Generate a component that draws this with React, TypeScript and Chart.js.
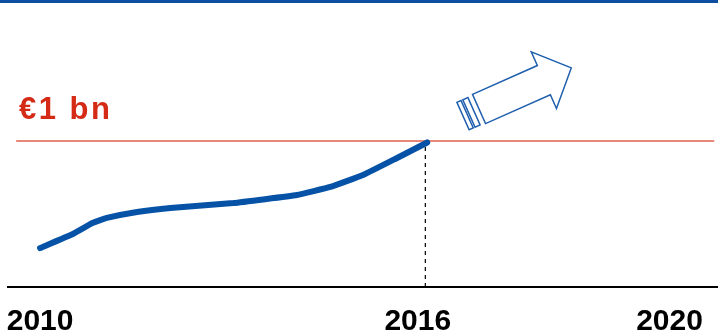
import React, { useEffect, useRef } from "react";
import { Chart, registerables } from "chart.js";

Chart.register(...registerables);

// ---- data ----
const YEARS = [2010, 2010.52, 2010.83, 2011.06, 2011.54, 2012.07, 2013.07, 2014.08, 2014.61, 2015.13, 2015.64, 2016.15];
const VALUES_BN = [0.267, 0.363, 0.438, 0.473, 0.514, 0.541, 0.575, 0.63, 0.685, 0.767, 0.877, 0.99];
const TICK_YEARS = [2010, 2016, 2020];
const THRESHOLD_BN = 1;
const THRESHOLD_LABEL = "€1 bn";
const THRESHOLD_SPAN = [2009.62, 2020.71];
const MILESTONE_YEAR = 2016.12;
const X_RANGE = [2009.49, 2020.77];
const Y_RANGE = [0, 1.8];

const BLUE = "#0652a6";
const RED_LINE = "#e0614f";
const RED_TEXT = "#d42a16";
const ARROW_BLUE = "#1f5fae";
const FONT = "'Liberation Sans', Arial, sans-serif";

const annotationPlugin = {
  id: "annotations",
  afterDatasetsDraw(chart: any) {
    const { ctx } = chart;
    const yScale = chart.scales.y;
    const yLine = yScale.getPixelForValue(THRESHOLD_BN);
    ctx.save();
    ctx.fillStyle = RED_TEXT;
    ctx.font = `bold 31px ${FONT}`;
    ctx.textBaseline = "alphabetic";
    ctx.textAlign = "left";
    try {
      (ctx as any).letterSpacing = "2.5px";
    } catch (e) {}
    ctx.fillText(THRESHOLD_LABEL, 19, yLine - 22);
    try {
      (ctx as any).letterSpacing = "0px";
    } catch (e) {}

    // outlined arrow
    ctx.translate(479, 109);
    ctx.rotate((-24 * Math.PI) / 180);
    ctx.strokeStyle = ARROW_BLUE;
    ctx.lineWidth = 1.5;
    ctx.lineJoin = "miter";
    ctx.beginPath();
    ctx.moveTo(0, -16);
    ctx.lineTo(71, -16);
    ctx.lineTo(71, -31);
    ctx.lineTo(101, 0);
    ctx.lineTo(71, 31);
    ctx.lineTo(71, 16);
    ctx.lineTo(0, 16);
    ctx.closePath();
    ctx.stroke();
    ctx.strokeRect(-11, -15, 5.5, 30);
    ctx.strokeRect(-17.5, -15, 4.5, 30);
    ctx.restore();
  },
};

export default function App() {
  const ref = useRef<HTMLCanvasElement>(null);

  useEffect(() => {
    if (!ref.current) return;
    const chart = new Chart(ref.current, {
      type: "line",
      data: {
        datasets: [
          {
            data: YEARS.map((x, i) => ({ x, y: VALUES_BN[i] })),
            borderColor: BLUE,
            borderWidth: 6,
            borderCapStyle: "round",
            borderJoinStyle: "round",
            pointRadius: 0,
            tension: 0.1,
            clip: false,
          },
          {
            data: [
              { x: MILESTONE_YEAR, y: 0 },
              { x: MILESTONE_YEAR, y: THRESHOLD_BN },
            ],
            borderColor: "#000",
            borderWidth: 1.2,
            borderDash: [4, 4],
            pointRadius: 0,
          },
          {
            data: THRESHOLD_SPAN.map((x) => ({ x, y: THRESHOLD_BN })),
            borderColor: RED_LINE,
            borderWidth: 1.5,
            pointRadius: 0,
          },
        ],
      },
      options: {
        animation: false,
        responsive: false,
        devicePixelRatio: 1,
        layout: { padding: { left: 8, right: 0, top: 24.2, bottom: 1 } },
        plugins: { legend: { display: false }, tooltip: { enabled: false } },
        scales: {
          x: {
            type: "linear",
            min: X_RANGE[0],
            max: X_RANGE[1],
            grid: { display: false, drawTicks: false },
            border: { display: true, color: "#000", width: 2 },
            afterBuildTicks: (scale: any) => {
              scale.ticks = TICK_YEARS.map((v) => ({ value: v }));
            },
            afterFit: (scale: any) => {
              scale.paddingLeft = 0;
              scale.paddingRight = 0;
              scale.height = 47;
            },
            ticks: {
              autoSkip: false,
              maxRotation: 0,
              padding: 23,
              color: "#000",
              font: { family: FONT, size: 30, weight: "bold", lineHeight: 0.8 },
              callback: (v: any) => String(v),
            },
          },
          y: {
            display: false,
            min: Y_RANGE[0],
            max: Y_RANGE[1],
          },
        },
      },
      plugins: [annotationPlugin],
    });
    return () => chart.destroy();
  }, []);

  return (
    <div
      style={{
        position: "fixed",
        left: 0,
        top: 0,
        width: 718,
        height: 335,
        background: "#fff",
        overflow: "hidden",
      }}
    >
      <div style={{ position: "absolute", left: 0, top: 0, width: 718, height: 3, background: "#0c4ea0" }} />
      <canvas ref={ref} width={718} height={335} style={{ display: "block" }} />
    </div>
  );
}
